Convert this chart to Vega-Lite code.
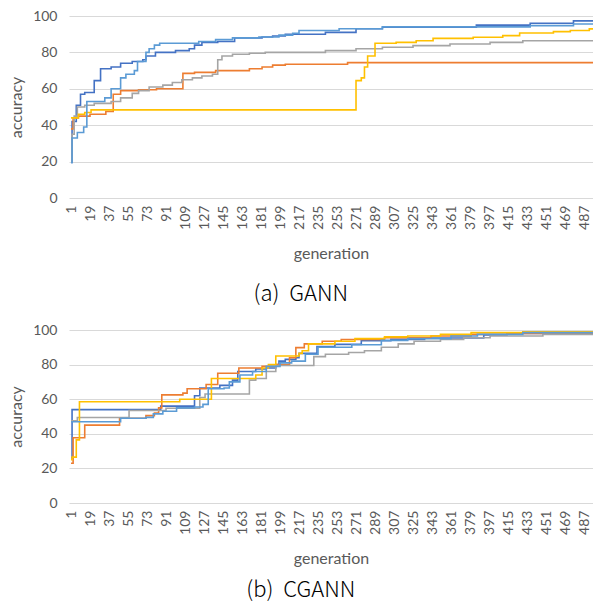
{
"$schema": "https://vega.github.io/schema/vega-lite/v6.json",
"padding": {"left": 8, "top": 9, "right": 0, "bottom": 0},
"spacing": 17,
"config": {
  "view": {"stroke": null},
  "font": "Lato",
  "axis": {"domain": false, "ticks": false, "tickSize": 0, "labelColor": "#595959", "titleColor": "#595959", "labelFont": "Lato", "titleFont": "Lato", "labelFontSize": 14, "titleFontSize": 16, "titleFontWeight": "normal", "gridColor": "#d9d9d9", "gridWidth": 1},
  "axisY": {"labelPadding": 12, "titlePadding": 8},
  "axisX": {"labelPadding": 7, "titlePadding": 16, "grid": false}
},
"datasets": {
"gann": [
{"series":"s1","gen":1,"acc":19.5},{"series":"s1","gen":2,"acc":42},{"series":"s1","gen":6,"acc":51},{"series":"s1","gen":10,"acc":57},{"series":"s1","gen":14,"acc":58},{"series":"s1","gen":23,"acc":64.5},{"series":"s1","gen":29,"acc":71},{"series":"s1","gen":39,"acc":72},{"series":"s1","gen":48,"acc":74},{"series":"s1","gen":59,"acc":75},{"series":"s1","gen":69,"acc":76},{"series":"s1","gen":72,"acc":78},{"series":"s1","gen":81,"acc":80},{"series":"s1","gen":100,"acc":81},{"series":"s1","gen":113,"acc":82},{"series":"s1","gen":118,"acc":84},{"series":"s1","gen":125,"acc":85.5},{"series":"s1","gen":140,"acc":86},{"series":"s1","gen":156,"acc":88},{"series":"s1","gen":182,"acc":88.5},{"series":"s1","gen":192,"acc":89},{"series":"s1","gen":204,"acc":90},{"series":"s1","gen":242,"acc":91},{"series":"s1","gen":271,"acc":93},{"series":"s1","gen":296,"acc":93.8},{"series":"s1","gen":385,"acc":95},{"series":"s1","gen":436,"acc":96},{"series":"s1","gen":477,"acc":97.3},{"series":"s1","gen":500,"acc":97.3},
{"series":"s2","gen":1,"acc":38},{"series":"s2","gen":3,"acc":44},{"series":"s2","gen":8,"acc":45},{"series":"s2","gen":19,"acc":46},{"series":"s2","gen":34,"acc":47.5},{"series":"s2","gen":41,"acc":57},{"series":"s2","gen":48,"acc":59},{"series":"s2","gen":65,"acc":59.5},{"series":"s2","gen":82,"acc":60},{"series":"s2","gen":107,"acc":68.5},{"series":"s2","gen":118,"acc":69},{"series":"s2","gen":138,"acc":70},{"series":"s2","gen":170,"acc":71},{"series":"s2","gen":182,"acc":72},{"series":"s2","gen":192,"acc":73},{"series":"s2","gen":204,"acc":73.5},{"series":"s2","gen":263,"acc":74.4},{"series":"s2","gen":500,"acc":74.4},
{"series":"s3","gen":1,"acc":20},{"series":"s3","gen":2,"acc":35},{"series":"s3","gen":4,"acc":45},{"series":"s3","gen":7,"acc":50},{"series":"s3","gen":14,"acc":51},{"series":"s3","gen":23,"acc":52},{"series":"s3","gen":39,"acc":53},{"series":"s3","gen":48,"acc":55},{"series":"s3","gen":59,"acc":57.5},{"series":"s3","gen":65,"acc":59},{"series":"s3","gen":75,"acc":61},{"series":"s3","gen":88,"acc":62},{"series":"s3","gen":97,"acc":63.5},{"series":"s3","gen":106,"acc":65},{"series":"s3","gen":116,"acc":66},{"series":"s3","gen":125,"acc":67},{"series":"s3","gen":135,"acc":68},{"series":"s3","gen":140,"acc":76},{"series":"s3","gen":144,"acc":78},{"series":"s3","gen":154,"acc":79},{"series":"s3","gen":170,"acc":79.5},{"series":"s3","gen":185,"acc":80},{"series":"s3","gen":242,"acc":81},{"series":"s3","gen":271,"acc":82},{"series":"s3","gen":296,"acc":82.8},{"series":"s3","gen":325,"acc":83.7},{"series":"s3","gen":360,"acc":84.6},{"series":"s3","gen":398,"acc":85.5},{"series":"s3","gen":429,"acc":86.4},{"series":"s3","gen":500,"acc":86.4},
{"series":"s4","gen":1,"acc":44},{"series":"s4","gen":8,"acc":46},{"series":"s4","gen":14,"acc":47},{"series":"s4","gen":20,"acc":48.4},{"series":"s4","gen":271,"acc":64.5},{"series":"s4","gen":276,"acc":66},{"series":"s4","gen":279,"acc":72},{"series":"s4","gen":282,"acc":78},{"series":"s4","gen":289,"acc":85},{"series":"s4","gen":309,"acc":85.5},{"series":"s4","gen":328,"acc":86.4},{"series":"s4","gen":344,"acc":87.7},{"series":"s4","gen":382,"acc":88.3},{"series":"s4","gen":410,"acc":89.2},{"series":"s4","gen":426,"acc":90.7},{"series":"s4","gen":458,"acc":91.4},{"series":"s4","gen":474,"acc":92},{"series":"s4","gen":492,"acc":92.9},{"series":"s4","gen":500,"acc":92.9},
{"series":"s5","gen":1,"acc":19.5},{"series":"s5","gen":2,"acc":33},{"series":"s5","gen":7,"acc":36},{"series":"s5","gen":13,"acc":39},{"series":"s5","gen":16,"acc":53},{"series":"s5","gen":33,"acc":55},{"series":"s5","gen":39,"acc":60},{"series":"s5","gen":48,"acc":66},{"series":"s5","gen":53,"acc":68},{"series":"s5","gen":61,"acc":70},{"series":"s5","gen":64,"acc":75},{"series":"s5","gen":72,"acc":80},{"series":"s5","gen":75,"acc":82},{"series":"s5","gen":80,"acc":84},{"series":"s5","gen":85,"acc":85},{"series":"s5","gen":122,"acc":86},{"series":"s5","gen":138,"acc":87},{"series":"s5","gen":154,"acc":88},{"series":"s5","gen":179,"acc":88.5},{"series":"s5","gen":198,"acc":89.5},{"series":"s5","gen":211,"acc":90.5},{"series":"s5","gen":217,"acc":92},{"series":"s5","gen":255,"acc":93},{"series":"s5","gen":296,"acc":94},{"series":"s5","gen":436,"acc":94.7},{"series":"s5","gen":477,"acc":95.6},{"series":"s5","gen":500,"acc":95.6}
],
"cgann": [
{"series":"s1","gen":1,"acc":26},{"series":"s1","gen":2,"acc":54},{"series":"s1","gen":86,"acc":56},{"series":"s1","gen":118,"acc":62},{"series":"s1","gen":123,"acc":66.5},{"series":"s1","gen":142,"acc":68},{"series":"s1","gen":154,"acc":71},{"series":"s1","gen":159,"acc":76},{"series":"s1","gen":176,"acc":77.5},{"series":"s1","gen":186,"acc":78},{"series":"s1","gen":195,"acc":80},{"series":"s1","gen":198,"acc":82},{"series":"s1","gen":204,"acc":83},{"series":"s1","gen":214,"acc":84},{"series":"s1","gen":217,"acc":86.5},{"series":"s1","gen":234,"acc":90.4},{"series":"s1","gen":251,"acc":91.7},{"series":"s1","gen":276,"acc":93.8},{"series":"s1","gen":304,"acc":94.6},{"series":"s1","gen":336,"acc":95.4},{"series":"s1","gen":392,"acc":97.1},{"series":"s1","gen":414,"acc":98},{"series":"s1","gen":460,"acc":98.5},{"series":"s1","gen":500,"acc":98.5},
{"series":"s2","gen":1,"acc":23},{"series":"s2","gen":3,"acc":37.7},{"series":"s2","gen":14,"acc":45},{"series":"s2","gen":47,"acc":49},{"series":"s2","gen":72,"acc":50.5},{"series":"s2","gen":80,"acc":52},{"series":"s2","gen":84,"acc":55},{"series":"s2","gen":87,"acc":62.5},{"series":"s2","gen":107,"acc":63.5},{"series":"s2","gen":111,"acc":66},{"series":"s2","gen":129,"acc":68.5},{"series":"s2","gen":140,"acc":75},{"series":"s2","gen":160,"acc":78},{"series":"s2","gen":182,"acc":79},{"series":"s2","gen":195,"acc":80},{"series":"s2","gen":208,"acc":84},{"series":"s2","gen":214,"acc":89.8},{"series":"s2","gen":222,"acc":92},{"series":"s2","gen":239,"acc":93.5},{"series":"s2","gen":257,"acc":94.5},{"series":"s2","gen":298,"acc":95.5},{"series":"s2","gen":342,"acc":96.5},{"series":"s2","gen":380,"acc":97.5},{"series":"s2","gen":414,"acc":98},{"series":"s2","gen":500,"acc":98.5},
{"series":"s3","gen":1,"acc":47.5},{"series":"s3","gen":7,"acc":49.4},{"series":"s3","gen":56,"acc":53.5},{"series":"s3","gen":91,"acc":54.8},{"series":"s3","gen":123,"acc":61},{"series":"s3","gen":128,"acc":63},{"series":"s3","gen":170,"acc":71},{"series":"s3","gen":176,"acc":72},{"series":"s3","gen":186,"acc":76},{"series":"s3","gen":195,"acc":79.5},{"series":"s3","gen":231,"acc":84.6},{"series":"s3","gen":242,"acc":86},{"series":"s3","gen":264,"acc":87},{"series":"s3","gen":279,"acc":88},{"series":"s3","gen":295,"acc":90},{"series":"s3","gen":311,"acc":92},{"series":"s3","gen":326,"acc":93.5},{"series":"s3","gen":351,"acc":94.5},{"series":"s3","gen":373,"acc":95.5},{"series":"s3","gen":398,"acc":96.5},{"series":"s3","gen":448,"acc":97.5},{"series":"s3","gen":500,"acc":97.7},
{"series":"s4","gen":1,"acc":25},{"series":"s4","gen":2,"acc":26.5},{"series":"s4","gen":6,"acc":36.5},{"series":"s4","gen":9,"acc":58.5},{"series":"s4","gen":104,"acc":60},{"series":"s4","gen":134,"acc":72},{"series":"s4","gen":176,"acc":74},{"series":"s4","gen":182,"acc":78},{"series":"s4","gen":188,"acc":80},{"series":"s4","gen":195,"acc":85},{"series":"s4","gen":217,"acc":86.5},{"series":"s4","gen":220,"acc":88},{"series":"s4","gen":226,"acc":92},{"series":"s4","gen":251,"acc":93.5},{"series":"s4","gen":270,"acc":95},{"series":"s4","gen":298,"acc":96},{"series":"s4","gen":320,"acc":96.5},{"series":"s4","gen":351,"acc":97.5},{"series":"s4","gen":380,"acc":98.5},{"series":"s4","gen":429,"acc":99},{"series":"s4","gen":500,"acc":99},
{"series":"s5","gen":1,"acc":47},{"series":"s5","gen":48,"acc":49},{"series":"s5","gen":72,"acc":49.5},{"series":"s5","gen":79,"acc":51.5},{"series":"s5","gen":88,"acc":53},{"series":"s5","gen":101,"acc":55},{"series":"s5","gen":118,"acc":55.5},{"series":"s5","gen":126,"acc":57},{"series":"s5","gen":131,"acc":66},{"series":"s5","gen":146,"acc":66.5},{"series":"s5","gen":151,"acc":70},{"series":"s5","gen":161,"acc":74},{"series":"s5","gen":173,"acc":76},{"series":"s5","gen":186,"acc":79},{"series":"s5","gen":199,"acc":81},{"series":"s5","gen":210,"acc":82},{"series":"s5","gen":223,"acc":86},{"series":"s5","gen":235,"acc":90},{"series":"s5","gen":267,"acc":91.5},{"series":"s5","gen":295,"acc":94},{"series":"s5","gen":320,"acc":95},{"series":"s5","gen":361,"acc":96.5},{"series":"s5","gen":386,"acc":97.5},{"series":"s5","gen":429,"acc":98.5},{"series":"s5","gen":500,"acc":98.7}
]
},
"vconcat": [
{
  "width": 524, "height": 182,
  "data": {"name": "gann"},
  "title": {"text": "(a)\u00a0\u00a0GANN", "orient": "bottom", "anchor": "middle", "frame": "bounds", "font": "Noto Sans CJK KR", "fontSize": 22, "fontWeight": 300, "color": "#000000", "offset": 23},
  "mark": {"type": "line", "interpolate": "step-after", "strokeWidth": 1.6, "clip": true},
  "encoding": {
    "x": {"field": "gen", "type": "quantitative", "scale": {"domain": [-0.9, 495.5], "nice": false, "zero": false}, "axis": {"values": [1,19,37,55,73,91,109,127,145,163,181,199,217,235,253,271,289,307,325,343,361,379,397,415,433,451,469,487], "labelAngle": -90, "labelOverlap": false, "title": "generation"}},
    "y": {"field": "acc", "type": "quantitative", "scale": {"domain": [0, 100], "nice": false}, "axis": {"values": [0,20,40,60,80,100], "title": "accuracy"}},
    "color": {"field": "series", "type": "nominal", "scale": {"domain": ["s1","s2","s3","s4","s5"], "range": ["#4472C4","#ED7D31","#A5A5A5","#FFC000","#5B9BD5"]}, "legend": null}
  }
},
{
  "width": 524, "height": 173,
  "data": {"name": "cgann"},
  "title": {"text": "(b)\u00a0\u00a0CGANN", "orient": "bottom", "anchor": "middle", "frame": "bounds", "font": "Noto Sans CJK KR", "fontSize": 22, "fontWeight": 300, "color": "#000000", "offset": 14},
  "mark": {"type": "line", "interpolate": "step-after", "strokeWidth": 1.6, "clip": true},
  "encoding": {
    "x": {"field": "gen", "type": "quantitative", "scale": {"domain": [-0.9, 495.5], "nice": false, "zero": false}, "axis": {"values": [1,19,37,55,73,91,109,127,145,163,181,199,217,235,253,271,289,307,325,343,361,379,397,415,433,451,469,487], "labelAngle": -90, "labelOverlap": false, "title": "generation"}},
    "y": {"field": "acc", "type": "quantitative", "scale": {"domain": [0, 100], "nice": false}, "axis": {"values": [0,20,40,60,80,100], "title": "accuracy"}},
    "color": {"field": "series", "type": "nominal", "scale": {"domain": ["s1","s2","s3","s4","s5"], "range": ["#4472C4","#ED7D31","#A5A5A5","#FFC000","#5B9BD5"]}, "legend": null}
  }
}
]
}
